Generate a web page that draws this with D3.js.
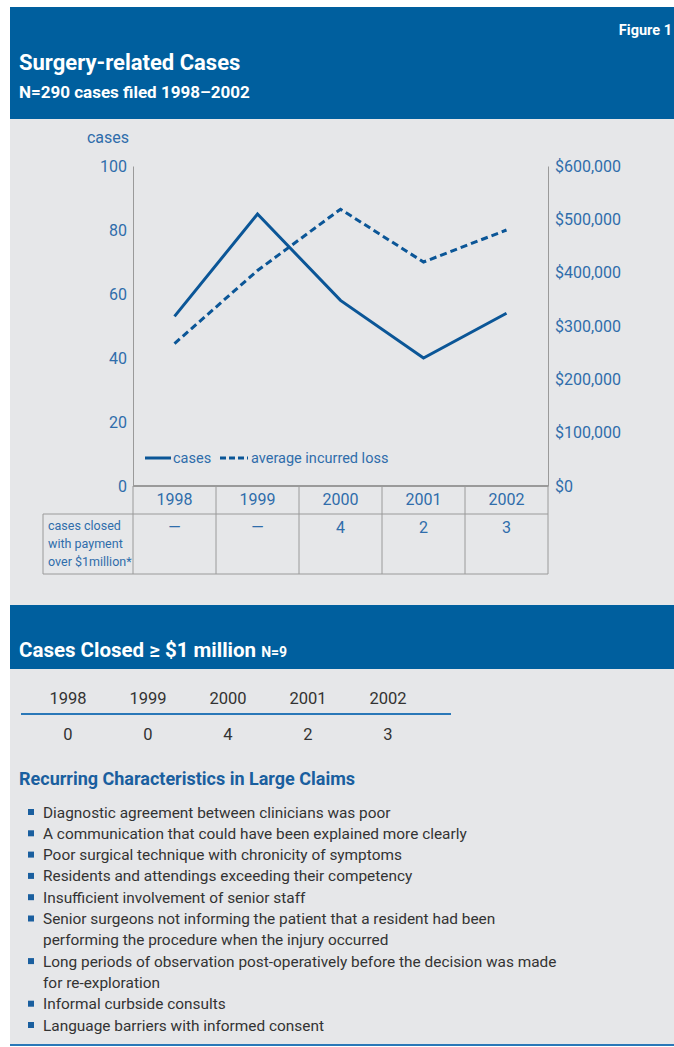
<!DOCTYPE html>
<html>
<head>
<meta charset="utf-8">
<script src="https://cdn.jsdelivr.net/npm/d3@7"></script>
<style>
  body { margin: 0; background: #fff; }
  svg text { font-family: Roboto, "Open Sans", sans-serif; }
</style>
</head>
<body>
<div id="chart"></div>
<script>
// data
const years = ["1998", "1999", "2000", "2001", "2002"];
const casesFiled = [53, 85, 58, 40, 54];
const avgIncurredLoss = [267000, 404000, 519000, 420000, 480000];
const casesLeftTicks = [0, 20, 40, 60, 80, 100];
const lossRightTicks = [0, 100000, 200000, 300000, 400000, 500000, 600000];
const closedOverMillion = ["—", "—", "4", "2", "3"];
const closedCounts = [0, 0, 4, 2, 3];
const characteristics = [
  ["Diagnostic agreement between clinicians was poor"],
  ["A communication that could have been explained more clearly"],
  ["Poor surgical technique with chronicity of symptoms"],
  ["Residents and attendings exceeding their competency"],
  ["Insufficient involvement of senior staff"],
  ["Senior surgeons not informing the patient that a resident had been", "performing the procedure when the injury occurred"],
  ["Long periods of observation post-operatively before the decision was made", "for re-exploration"],
  ["Informal curbside consults"],
  ["Language barriers with informed consent"]
];

const W = 674, H = 1047;
const blue = "#005f9e";
const lineBlue = "#0b5697";
const textBlue = "#2f6dab";
const grey = "#e6e7e9";
const rule = "#9a9a9a";

const svg = d3.select("#chart").append("svg")
  .attr("width", W)
  .attr("height", H);

// backgrounds
svg.append("rect").attr("x", 10).attr("y", 7).attr("width", W - 10).attr("height", 1038).attr("fill", grey);
svg.append("rect").attr("x", 10).attr("y", 7).attr("width", W - 10).attr("height", 112).attr("fill", blue);
svg.append("rect").attr("x", 10).attr("y", 605).attr("width", W - 10).attr("height", 64).attr("fill", blue);
svg.append("rect").attr("x", 10).attr("y", 1044).attr("width", W - 10).attr("height", 2).attr("fill", "#2a78b8");

// header text
svg.append("text").attr("x", 672).attr("y", 35)
  .attr("text-anchor", "end")
  .attr("fill", "#fff").attr("font-size", 14.5).attr("font-weight", "bold")
  .text("Figure 1");
svg.append("text").attr("x", 19).attr("y", 70)
  .attr("fill", "#fff").attr("font-size", 22).attr("font-weight", "bold")
  .text("Surgery-related Cases");
svg.append("text").attr("x", 19).attr("y", 98)
  .attr("fill", "#fff").attr("font-size", 17).attr("font-weight", "bold")
  .text("N=290 cases filed 1998–2002");

// scales
const x = d3.scaleBand().domain(years).range([133, 548]);
const yL = d3.scaleLinear().domain([0, 100]).range([486, 166]);
const yR = d3.scaleLinear().domain([0, 600000]).range([486, 166]);

// axes
const gL = svg.append("g").attr("transform", "translate(133,0)")
  .call(d3.axisLeft(yL).tickValues(casesLeftTicks).tickSize(0).tickPadding(6));
const gR = svg.append("g").attr("transform", "translate(548,0)")
  .call(d3.axisRight(yR).tickValues(lossRightTicks).tickSize(0).tickPadding(7)
    .tickFormat(d => "$" + d3.format(",")(d)));
[gL, gR].forEach(g => {
  g.select(".domain").attr("stroke", rule);
  g.selectAll("text").attr("fill", textBlue).attr("font-size", 16)
    .style("font-family", 'Roboto, "Open Sans", sans-serif');
});

svg.append("text").attr("x", 129).attr("y", 143)
  .attr("text-anchor", "end").attr("fill", textBlue).attr("font-size", 16)
  .text("cases");

// lines
const cx = d => x(d) + x.bandwidth() / 2;
const caseLine = d3.line().x((d, i) => cx(years[i])).y(d => yL(d));
const lossLine = d3.line().x((d, i) => cx(years[i])).y(d => yR(d));

svg.append("path").datum(casesFiled)
  .attr("fill", "none").attr("stroke", lineBlue).attr("stroke-width", 3)
  .attr("d", caseLine);
svg.append("path").datum(avgIncurredLoss)
  .attr("fill", "none").attr("stroke", lineBlue).attr("stroke-width", 3)
  .attr("stroke-dasharray", "7,4")
  .attr("d", lossLine);

// legend
const leg = svg.append("g").attr("transform", "translate(0,458)");
leg.append("line").attr("x1", 145).attr("x2", 171).attr("stroke", lineBlue).attr("stroke-width", 3);
leg.append("text").attr("x", 173).attr("y", 5).attr("fill", textBlue).attr("font-size", 14.5).text("cases");
leg.append("line").attr("x1", 220).attr("x2", 248).attr("stroke", lineBlue).attr("stroke-width", 3)
  .attr("stroke-dasharray", "6,3");
leg.append("text").attr("x", 251).attr("y", 5).attr("fill", textBlue).attr("font-size", 14.5).text("average incurred loss");

// table under chart
const tbl = svg.append("g");
const rowTop = 486, rowMid = 514, rowBot = 574;
tbl.selectAll("line.v").data(years.concat(["end"])).enter().append("line")
  .attr("x1", (d, i) => i < years.length ? x(d) : x.range()[1])
  .attr("x2", (d, i) => i < years.length ? x(d) : x.range()[1])
  .attr("y1", rowTop).attr("y2", rowBot)
  .attr("stroke", rule).attr("stroke-width", 1);
tbl.append("line").attr("x1", 43).attr("x2", 43).attr("y1", rowMid).attr("y2", rowBot).attr("stroke", rule);
tbl.append("line").attr("x1", 133).attr("x2", 548).attr("y1", rowTop).attr("y2", rowTop).attr("stroke", rule).attr("stroke-width", 2);
tbl.append("line").attr("x1", 43).attr("x2", 548).attr("y1", rowMid).attr("y2", rowMid).attr("stroke", rule);
tbl.append("line").attr("x1", 43).attr("x2", 548).attr("y1", rowBot).attr("y2", rowBot).attr("stroke", rule);

tbl.selectAll("text.yr").data(years).enter().append("text")
  .attr("x", d => cx(d)).attr("y", 505)
  .attr("text-anchor", "middle").attr("fill", textBlue).attr("font-size", 16)
  .text(d => d);
tbl.selectAll("text.val").data(closedOverMillion).enter().append("text")
  .attr("x", (d, i) => cx(years[i])).attr("y", 533)
  .attr("text-anchor", "middle").attr("fill", textBlue).attr("font-size", 16)
  .text(d => d);
["cases closed", "with payment", "over $1million*"].forEach((t, i) => {
  tbl.append("text").attr("x", 48).attr("y", 530 + i * 18)
    .attr("fill", textBlue).attr("font-size", 12.5).text(t);
});

// section 2
const s2 = svg.append("text").attr("x", 19).attr("y", 657)
  .attr("fill", "#fff").attr("font-size", 20.5).attr("font-weight", "bold");
s2.append("tspan").text("Cases Closed ≥ $1 million ");
s2.append("tspan").attr("font-size", 14).text("N=9");

const x2 = d3.scaleBand().domain(years).range([28, 428]);
svg.selectAll("text.y2").data(years).enter().append("text")
  .attr("x", d => x2(d) + x2.bandwidth() / 2).attr("y", 704)
  .attr("text-anchor", "middle").attr("fill", "#333").attr("font-size", 16.5)
  .text(d => d);
svg.append("line").attr("x1", 21).attr("x2", 451).attr("y1", 714).attr("y2", 714)
  .attr("stroke", "#2a78b8").attr("stroke-width", 2);
svg.selectAll("text.c2").data(closedCounts).enter().append("text")
  .attr("x", (d, i) => x2(years[i]) + x2.bandwidth() / 2).attr("y", 740)
  .attr("text-anchor", "middle").attr("fill", "#333").attr("font-size", 16.5)
  .text(d => d);

svg.append("text").attr("x", 19).attr("y", 785)
  .attr("fill", "#1a5f9f").attr("font-size", 18).attr("font-weight", "bold")
  .text("Recurring Characteristics in Large Claims");

let lineIdx = 0;
const y0 = 812, step = 21.3;
characteristics.forEach(item => {
  const yy = y0 + lineIdx * step;
  svg.append("rect").attr("x", 28).attr("y", yy - 3).attr("width", 6).attr("height", 6).attr("fill", "#1a5f9f");
  item.forEach((t, j) => {
    svg.append("text").attr("x", 43).attr("y", y0 + (lineIdx + j) * step + 5.5)
      .attr("fill", "#333").attr("font-size", 15.4).text(t);
  });
  lineIdx += item.length;
});
</script>
</body>
</html>
